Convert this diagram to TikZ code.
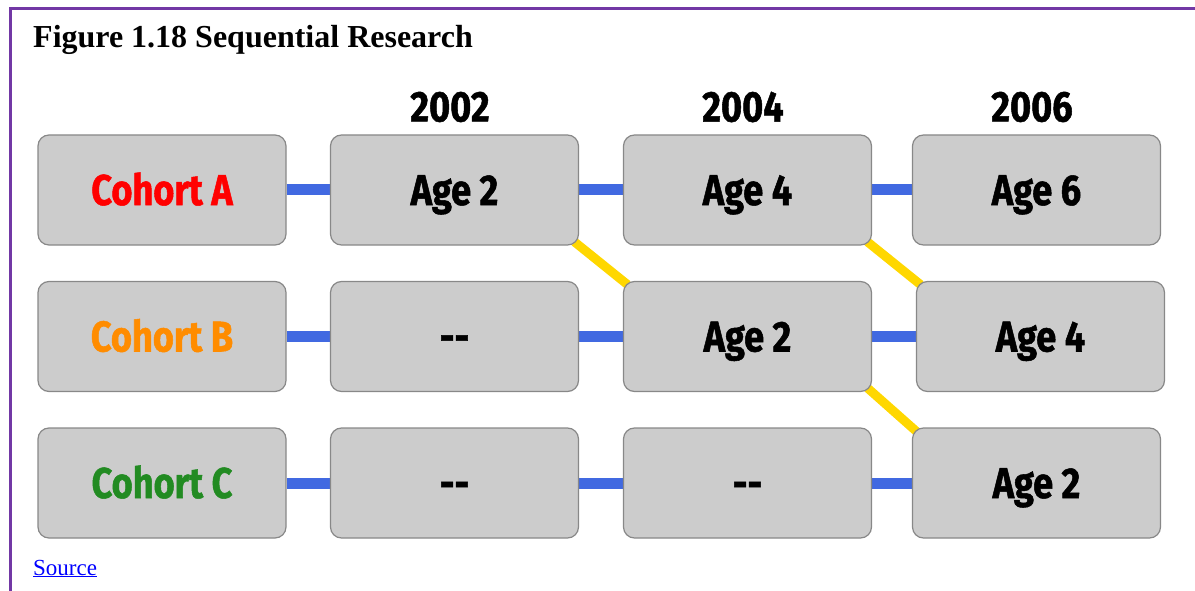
\documentclass[tikz,border=0pt]{standalone}
\usepackage[rgb]{xcolor}
\usepackage{fontspec}
\setmainfont{Liberation Serif}
\newfontfamily\boxfont[FakeStretch=0.84, BoldFeatures={FakeBold=1.2}]{Fira Sans}
\usepackage{tikz}
\usetikzlibrary{backgrounds}

\definecolor{framepurple}{RGB}{114,56,165}
\definecolor{boxgray}{RGB}{204,204,204}
\definecolor{boxedge}{RGB}{136,136,136}
\definecolor{linkblue}{RGB}{65,105,225}
\definecolor{linkgold}{RGB}{255,215,0}
\definecolor{cohortred}{RGB}{255,0,0}
\definecolor{cohortorange}{RGB}{255,140,0}
\definecolor{cohortgreen}{RGB}{34,139,34}

\tikzset{
  cell/.style={draw=boxedge, fill=boxgray, line width=1.2pt, rounded corners=11pt,
    minimum width=248pt, minimum height=110pt, inner sep=0pt,
    text height=30pt, text depth=0pt,
    font=\boxfont\bfseries\fontsize{43}{46}\selectfont},
  year/.style={font=\boxfont\bfseries\fontsize{43}{46}\selectfont},
  bluelink/.style={draw=linkblue, line width=11pt},
  goldlink/.style={draw=linkgold, line width=9pt, shorten <=-6pt, shorten >=-6pt}
}

\begin{document}
\begin{tikzpicture}[x=1pt, y=-1pt]

\useasboundingbox (0,0) rectangle (1195,591);

% frame and caption
\draw[framepurple, line width=3pt] (10.5,591) -- (10.5,8.5) -- (1195,8.5);
\node[anchor=base west, inner sep=0pt, font=\bfseries\fontsize{32}{35}\selectfont] (title) at (33,48) {Figure 1.18 Sequential Research};
\node[anchor=base west, inner sep=0pt, text=blue, font=\fontsize{23}{26}\selectfont] (source) at (33,575) {\underline{Source}};

% years
\path
(450,107) node[year] (y2002) {2002}
(743,107) node[year] (y2004) {2004}
(1032,107) node[year] (y2006) {2006};

% Cohort A
\path
(162,190) node[cell, text=cohortred] (a1) {Cohort A}
(454.5,190) node[cell] (a2) {Age 2}
(747.5,190) node[cell] (a3) {Age 4}
(1036.5,190) node[cell] (a4) {Age 6};

% Cohort B
\path
(162,336.5) node[cell, text=cohortorange] (b1) {Cohort B}
(454.5,336.5) node[cell] (b2) {--}
(747.5,336.5) node[cell] (b3) {Age 2}
(1040.5,336.5) node[cell] (b4) {Age 4};

% Cohort C
\path
(162,483) node[cell, text=cohortgreen] (c1) {Cohort C}
(454.5,483) node[cell] (c2) {--}
(747.5,483) node[cell] (c3) {--}
(1036.5,483) node[cell] (c4) {Age 2};

% links
\begin{pgfonlayer}{background}
\foreach \r in {a,b,c}{
  \draw[bluelink] (\r1.east) -- (\r2.west);
  \draw[bluelink] (\r2.east) -- (\r3.west);
  \draw[bluelink] (\r3.east) -- (\r4.west);
}
\draw[goldlink] (a2.south east) -- (b3.north west);
\draw[goldlink] (a3.south east) -- (b4.north west);
\draw[goldlink] (b3.south east) -- (c4.north west);
\end{pgfonlayer}

\end{tikzpicture}
\end{document}
